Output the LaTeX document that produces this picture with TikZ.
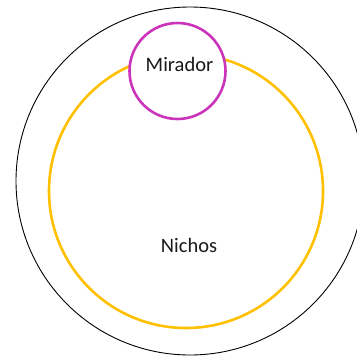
\documentclass[tikz,border=0pt]{standalone}
\usepackage{fontspec}
\setmainfont{Carlito}
\definecolor{ringyellow}{RGB}{255,192,0}
\definecolor{ringmagenta}{RGB}{204,51,187}
\tikzset{
  outerring/.style={circle, draw=black, line width=0.9pt, minimum size=348pt, inner sep=0pt},
  yellowring/.style={circle, draw=ringyellow, line width=2.6pt, minimum size=274pt, inner sep=0pt},
  magentaring/.style={circle, draw=ringmagenta, fill=white, line width=2.6pt, minimum size=96pt, inner sep=0pt},
  lbl/.style={font=\fontsize{20.5}{24}\selectfont, text=black!90, inner sep=0pt}
}
\begin{document}
\begin{tikzpicture}[x=1pt,y=-1pt]
\useasboundingbox (0,0) rectangle (357,360);
\begin{scope}
\clip (0,0) rectangle (357,360);
\node[outerring] (outer) at (190,181) {};
\node[yellowring] (nichosring) at (186,191) {};
\node[magentaring] (miradorring) at (177.5,71) {};
\end{scope}
\node[lbl, anchor=base] (mirador) at (179.5,71) {Mirador};
\node[lbl, anchor=base] (nichos) at (189,252) {Nichos};
\end{tikzpicture}
\end{document}
